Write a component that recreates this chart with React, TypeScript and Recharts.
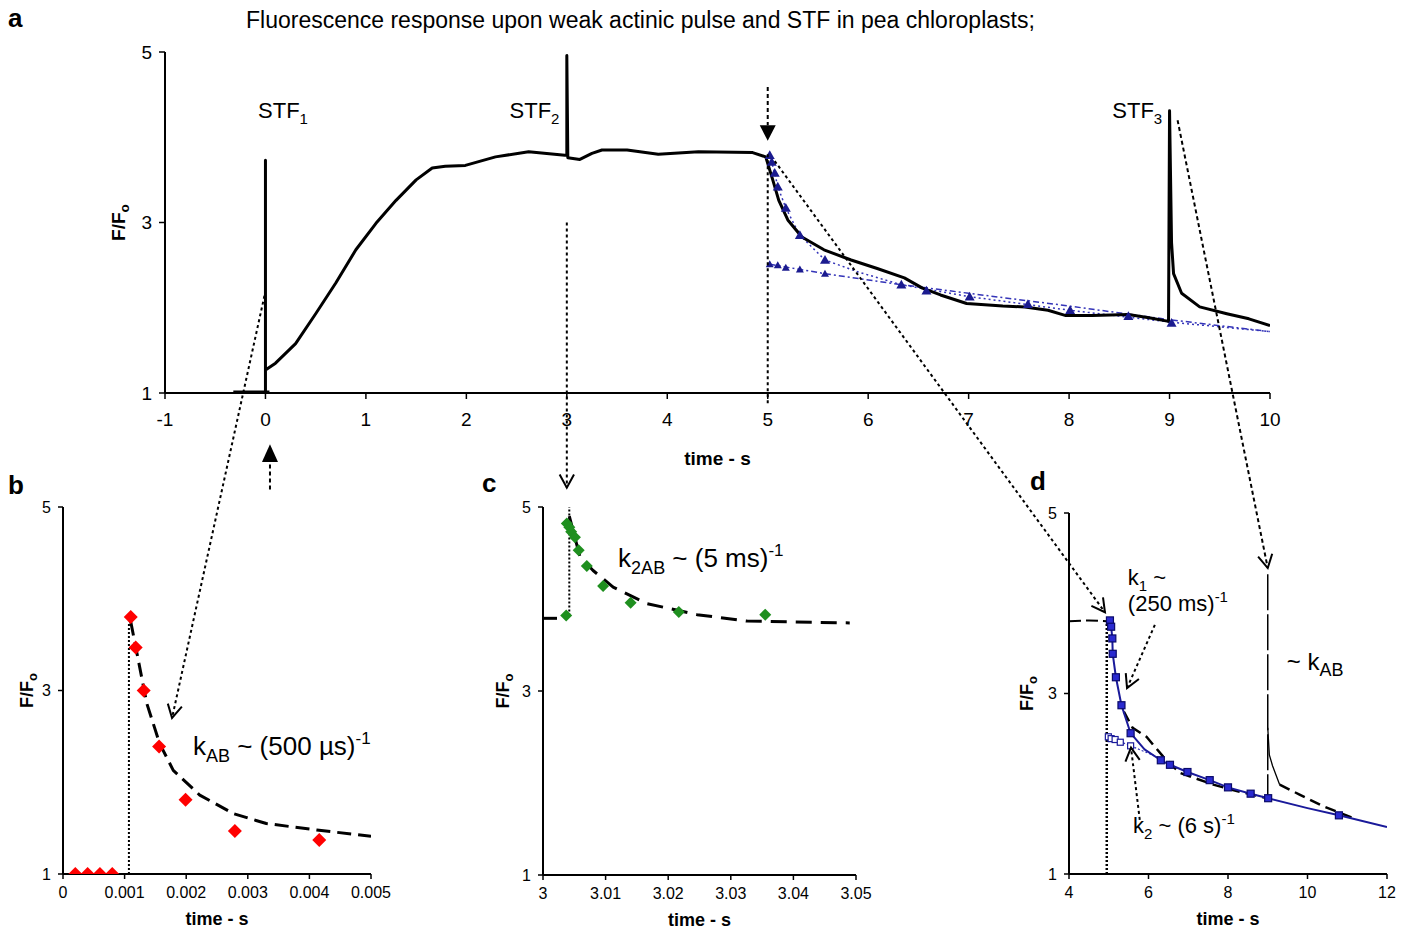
import React from "react";
import { ComposedChart, Line, Scatter, XAxis, YAxis, ReferenceLine } from "recharts";

const FONT = "'Liberation Sans', Arial, Helvetica, sans-serif";

// ---- panel a : whole trace ----
const ticksXA = [-1, 0, 1, 2, 3, 4, 5, 6, 7, 8, 9, 10];
const ticksY = [1, 3, 5];
const traceA = [
  { x: 0, y: 1 }, { x: 0, y: 3.73 }, { x: 0, y: 1.27 }, { x: 0.1, y: 1.35 }, { x: 0.3, y: 1.58 },
  { x: 0.5, y: 1.93 }, { x: 0.7, y: 2.29 }, { x: 0.9, y: 2.68 }, { x: 1.1, y: 2.99 }, { x: 1.3, y: 3.26 },
  { x: 1.5, y: 3.5 }, { x: 1.66, y: 3.64 }, { x: 1.79, y: 3.66 }, { x: 1.99, y: 3.67 }, { x: 2.29, y: 3.77 },
  { x: 2.62, y: 3.83 }, { x: 2.98, y: 3.79 }, { x: 3.0, y: 3.79 }, { x: 3.0, y: 4.96 }, { x: 3.01, y: 3.76 },
  { x: 3.13, y: 3.74 }, { x: 3.25, y: 3.81 }, { x: 3.35, y: 3.85 }, { x: 3.6, y: 3.85 }, { x: 3.91, y: 3.8 },
  { x: 4.31, y: 3.83 }, { x: 4.85, y: 3.82 }, { x: 4.98, y: 3.77 }, { x: 5.05, y: 3.5 }, { x: 5.11, y: 3.26 },
  { x: 5.2, y: 3.03 }, { x: 5.34, y: 2.83 }, { x: 5.56, y: 2.68 }, { x: 5.83, y: 2.56 }, { x: 6.09, y: 2.46 },
  { x: 6.36, y: 2.35 }, { x: 6.54, y: 2.23 }, { x: 6.72, y: 2.15 }, { x: 6.98, y: 2.05 }, { x: 7.34, y: 2.02 },
  { x: 7.56, y: 2.01 }, { x: 7.79, y: 1.97 }, { x: 7.96, y: 1.91 }, { x: 8.23, y: 1.91 }, { x: 8.59, y: 1.92 },
  { x: 8.81, y: 1.88 }, { x: 8.99, y: 1.84 }, { x: 9.0, y: 4.31 }, { x: 9.02, y: 2.76 }, { x: 9.04, y: 2.4 },
  { x: 9.12, y: 2.17 }, { x: 9.3, y: 2.01 }, { x: 9.57, y: 1.93 }, { x: 9.79, y: 1.87 }, { x: 10, y: 1.79 },
];
const baseA = [{ x: -0.32, y: 1 }, { x: 0.04, y: 1 }];
const triUpperA = [
  { x: 5.02, y: 3.79 }, { x: 5.04, y: 3.71 }, { x: 5.07, y: 3.58 }, { x: 5.1, y: 3.42 }, { x: 5.18, y: 3.17 },
  { x: 5.32, y: 2.85 }, { x: 5.57, y: 2.56 }, { x: 6.33, y: 2.27 }, { x: 6.58, y: 2.2 }, { x: 7.01, y: 2.13 },
  { x: 7.59, y: 2.04 }, { x: 8.01, y: 1.97 }, { x: 8.59, y: 1.9 }, { x: 9.02, y: 1.82 },
];
const triLowerA = [
  { x: 5.02, y: 2.51 }, { x: 5.1, y: 2.5 }, { x: 5.18, y: 2.47 }, { x: 5.32, y: 2.45 }, { x: 5.57, y: 2.4 },
];
const fitUpperA = [
  { x: 5.02, y: 3.79 }, { x: 5.07, y: 3.58 }, { x: 5.1, y: 3.42 }, { x: 5.18, y: 3.17 }, { x: 5.32, y: 2.85 },
  { x: 5.57, y: 2.56 }, { x: 5.9, y: 2.42 }, { x: 6.33, y: 2.27 }, { x: 7.01, y: 2.13 }, { x: 8.01, y: 1.97 },
  { x: 9.02, y: 1.83 }, { x: 10, y: 1.72 },
];
const fitLowerA = [
  { x: 5.02, y: 2.51 }, { x: 5.57, y: 2.4 }, { x: 6.33, y: 2.27 }, { x: 7.0, y: 2.17 }, { x: 8.0, y: 2.02 },
  { x: 9.0, y: 1.86 }, { x: 10, y: 1.72 },
];

// ---- panel b : STF1 ----
const ticksXB = [0, 0.001, 0.002, 0.003, 0.004, 0.005];
const pointsB = [
  { x: 0.0002, y: 1 }, { x: 0.0004, y: 1 }, { x: 0.0006, y: 1 }, { x: 0.0008, y: 1 },
  { x: 0.0011, y: 3.8 }, { x: 0.00118, y: 3.47 }, { x: 0.00131, y: 3.0 }, { x: 0.00156, y: 2.39 },
  { x: 0.00199, y: 1.81 }, { x: 0.00279, y: 1.47 }, { x: 0.00416, y: 1.37 },
];
const fitB = [
  { x: 0.0011, y: 3.75 }, { x: 0.00136, y: 2.86 }, { x: 0.00157, y: 2.42 }, { x: 0.00179, y: 2.13 },
  { x: 0.00222, y: 1.86 }, { x: 0.00276, y: 1.66 }, { x: 0.0033, y: 1.55 }, { x: 0.00412, y: 1.48 },
  { x: 0.005, y: 1.41 },
];

// ---- panel c : STF2 ----
const ticksXC = [3, 3.01, 3.02, 3.03, 3.04, 3.05];
const pointsC = [
  { x: 3.0037, y: 3.82 }, { x: 3.0038, y: 4.82 }, { x: 3.0042, y: 4.78 }, { x: 3.0045, y: 4.73 },
  { x: 3.0051, y: 4.67 }, { x: 3.0057, y: 4.53 }, { x: 3.007, y: 4.36 }, { x: 3.0096, y: 4.14 },
  { x: 3.014, y: 3.96 }, { x: 3.0217, y: 3.86 }, { x: 3.0355, y: 3.83 },
];
const fitC = [
  { x: 3.0042, y: 4.9 }, { x: 3.0059, y: 4.46 }, { x: 3.008, y: 4.31 }, { x: 3.0112, y: 4.13 },
  { x: 3.0166, y: 3.95 }, { x: 3.0246, y: 3.83 }, { x: 3.0326, y: 3.76 }, { x: 3.049, y: 3.74 },
];
const preC = [{ x: 3, y: 3.79 }, { x: 3.0025, y: 3.79 }];

// ---- panel d : dark decay ----
const ticksXD = [4, 6, 8, 10, 12];
const squaresD = [
  { x: 5.03, y: 3.81 }, { x: 5.06, y: 3.74 }, { x: 5.09, y: 3.61 }, { x: 5.1, y: 3.44 }, { x: 5.18, y: 3.18 },
  { x: 5.32, y: 2.87 }, { x: 5.55, y: 2.56 }, { x: 6.31, y: 2.26 }, { x: 6.54, y: 2.21 }, { x: 6.98, y: 2.13 },
  { x: 7.54, y: 2.04 }, { x: 8.0, y: 1.96 }, { x: 8.57, y: 1.89 }, { x: 9.01, y: 1.84 }, { x: 10.79, y: 1.65 },
];
const hollowD = [
  { x: 4.99, y: 2.52 }, { x: 5.06, y: 2.5 }, { x: 5.16, y: 2.49 }, { x: 5.29, y: 2.46 }, { x: 5.55, y: 2.42 },
];
const fitD = [
  { x: 5.03, y: 3.81 }, { x: 5.06, y: 3.74 }, { x: 5.09, y: 3.61 }, { x: 5.1, y: 3.44 }, { x: 5.18, y: 3.18 },
  { x: 5.32, y: 2.87 }, { x: 5.55, y: 2.56 }, { x: 5.9, y: 2.38 }, { x: 6.31, y: 2.26 }, { x: 6.54, y: 2.21 },
  { x: 6.98, y: 2.13 }, { x: 7.54, y: 2.04 }, { x: 8.0, y: 1.96 }, { x: 8.57, y: 1.89 }, { x: 9.01, y: 1.84 },
  { x: 10.0, y: 1.73 }, { x: 10.79, y: 1.65 }, { x: 12, y: 1.52 },
];
const slowD = [{ x: 4.99, y: 2.52 }, { x: 5.55, y: 2.42 }, { x: 6.31, y: 2.28 }];
const preD = [{ x: 4, y: 3.8 }, { x: 4.5, y: 3.81 }, { x: 4.95, y: 3.8 }];
const traceD1 = [
  { x: 5.38, y: 2.8 }, { x: 5.6, y: 2.62 }, { x: 5.95, y: 2.52 }, { x: 6.37, y: 2.3 }, { x: 6.79, y: 2.12 },
  { x: 7.63, y: 1.99 }, { x: 8.3, y: 1.91 }, { x: 8.8, y: 1.86 }, { x: 9.0, y: 1.84 },
];
const traceD2 = [{ x: 9.3, y: 1.99 }, { x: 9.8, y: 1.88 }, { x: 10.4, y: 1.75 }, { x: 11.14, y: 1.62 }];
const spikeD = [{ x: 9, y: 4.32 }, { x: 9, y: 1.85 }];
const tailD = [{ x: 9, y: 2.62 }, { x: 9.04, y: 2.32 }, { x: 9.12, y: 2.2 }, { x: 9.3, y: 1.99 }];

// plot boxes in page pixels
type Box = { l: number; r: number; t: number; b: number; x0: number; x1: number; y0: number; y1: number };
const boxA: Box = { l: 165, r: 1270, t: 52, b: 393, x0: -1, x1: 10, y0: 1, y1: 5 };
const boxB: Box = { l: 63, r: 371, t: 507, b: 874, x0: 0, x1: 0.005, y0: 1, y1: 5 };
const boxC: Box = { l: 543, r: 856, t: 507, b: 875, x0: 3, x1: 3.05, y0: 1, y1: 5 };
const boxD: Box = { l: 1069, r: 1387, t: 513, b: 874, x0: 4, x1: 12, y0: 1, y1: 5 };
const px = (bx: Box, x: number) => bx.l + ((x - bx.x0) / (bx.x1 - bx.x0)) * (bx.r - bx.l);
const py = (bx: Box, y: number) => bx.b - ((y - bx.y0) / (bx.y1 - bx.y0)) * (bx.b - bx.t);

const TOP = 16;
const RIGHT = 22;

const diamond = (r: number, fill: string) => (p: any) => (
  <polygon points={`${p.cx},${p.cy - r} ${p.cx + r},${p.cy} ${p.cx},${p.cy + r} ${p.cx - r},${p.cy}`} fill={fill} />
);
const triangle = (r: number, fill: string) => (p: any) => (
  <polygon points={`${p.cx},${p.cy - r} ${p.cx + r},${p.cy + r * 0.75} ${p.cx - r},${p.cy + r * 0.75}`} fill={fill} />
);
const square = (r: number, fill: string, stroke: string) => (p: any) => (
  <rect x={p.cx - r} y={p.cy - r} width={2 * r} height={2 * r} fill={fill} stroke={stroke} strokeWidth={1.2} />
);

// y title, in the chart's own svg coordinates (gap = distance left of the y axis)
const yTitle = (bx: Box, yW: number, gap: number, size: number) => () => {
  const x = yW - gap;
  const y = TOP + (bx.b - bx.t) / 2;
  return (
    <text x={x} y={y} transform={`rotate(-90 ${x} ${y})`} textAnchor="middle" fontFamily={FONT} fontSize={size} fontWeight="bold" fill="#000">
      F/F<tspan dy={4} fontSize={size * 0.72}>o</tspan>
    </text>
  );
};

function Panel({ bx, yW, xH, children }: { bx: Box; yW: number; xH: number; children: React.ReactNode }) {
  const width = bx.r - bx.l + yW + RIGHT;
  const height = TOP + (bx.b - bx.t) + xH;
  return (
    <div style={{ position: "absolute", left: bx.l - yW, top: bx.t - TOP }}>
      <ComposedChart width={width} height={height} margin={{ top: TOP, right: RIGHT, bottom: 0, left: 0 }}>
        {children}
      </ComposedChart>
    </div>
  );
}

const axisProps = (fs: number) => ({
  stroke: "#000",
  axisLine: { stroke: "#000", strokeWidth: 2 },
  tickLine: { stroke: "#000", strokeWidth: 1.5 },
  tick: { fill: "#000", fontSize: fs, fontFamily: FONT },
  interval: 0 as const,
  allowDataOverflow: true,
});

const line = (data: any[], stroke: string, width: number, dash?: string) => (
  <Line
    data={data}
    dataKey="y"
    type="linear"
    stroke={stroke}
    strokeWidth={width}
    strokeDasharray={dash}
    strokeLinejoin="round"
    dot={false}
    activeDot={false}
    isAnimationActive={false}
  />
);

// arrow heads
const openHead = (x1: number, y1: number, x2: number, y2: number, len = 15, ang = 0.5) => {
  const a = Math.atan2(y2 - y1, x2 - x1);
  const p1 = `${x2 - len * Math.cos(a - ang)},${y2 - len * Math.sin(a - ang)}`;
  const p2 = `${x2 - len * Math.cos(a + ang)},${y2 - len * Math.sin(a + ang)}`;
  return <polyline points={`${p1} ${x2},${y2} ${p2}`} fill="none" stroke="#000" strokeWidth={2} />;
};
const filledHead = (x: number, yBase: number, yTip: number, half = 8) => (
  <polygon points={`${x - half},${yBase} ${x + half},${yBase} ${x},${yTip}`} fill="#000" />
);

function Arrow({ x1, y1, x2, y2, dash = "4 3" }: { x1: number; y1: number; x2: number; y2: number; dash?: string }) {
  return (
    <g>
      <line x1={x1} y1={y1} x2={x2} y2={y2} stroke="#000" strokeWidth={2} strokeDasharray={dash} />
      {openHead(x1, y1, x2, y2)}
    </g>
  );
}

function Overlay() {
  const t = { fontFamily: FONT, fill: "#000" };
  const x5 = px(boxA, 5);
  const x0 = px(boxA, 0.045);
  return (
    <svg width={1410} height={929} style={{ position: "absolute", left: 0, top: 0, pointerEvents: "none" }}>
      {/* panel letters and title */}
      <text x={8} y={27} {...t} fontSize={26} fontWeight="bold">a</text>
      <text x={8} y={494} {...t} fontSize={26} fontWeight="bold">b</text>
      <text x={482} y={492} {...t} fontSize={26} fontWeight="bold">c</text>
      <text x={1030} y={490} {...t} fontSize={26} fontWeight="bold">d</text>
      <text x={246} y={28} {...t} fontSize={23}>
        Fluorescence response upon weak actinic pulse and STF in pea chloroplasts;
      </text>

      {/* STF labels */}
      <text x={px(boxA, -0.074)} y={py(boxA, 4.23)} {...t} fontSize={22}>
        STF<tspan dy={6} fontSize={15}>1</tspan>
      </text>
      <text x={px(boxA, 2.43)} y={py(boxA, 4.23)} {...t} fontSize={22}>
        STF<tspan dy={6} fontSize={15}>2</tspan>
      </text>
      <text x={px(boxA, 8.43)} y={py(boxA, 4.23)} {...t} fontSize={22}>
        STF<tspan dy={6} fontSize={15}>3</tspan>
      </text>

      {/* arrows in and below panel a */}
      <line x1={x5} y1={py(boxA, 4.59)} x2={x5} y2={py(boxA, 4.14)} stroke="#000" strokeWidth={2} strokeDasharray="4 3" />
      {filledHead(x5, py(boxA, 4.14), py(boxA, 3.96))}
      <line x1={x5} y1={py(boxA, 3.8)} x2={x5} y2={py(boxA, 0.85)} stroke="#000" strokeWidth={2} strokeDasharray="3 3" />
      <line x1={x0} y1={py(boxA, 0.16)} x2={x0} y2={py(boxA, -0.16)} stroke="#000" strokeWidth={2} strokeDasharray="4 3" />
      {filledHead(x0, py(boxA, 0.19), py(boxA, 0.4))}

      {/* connections between panels */}
      <Arrow x1={px(boxA, -0.01)} y1={py(boxA, 2.14)} x2={px(boxB, 0.00177)} y2={py(boxB, 2.7)} dash="3 3" />
      <Arrow x1={px(boxA, 3)} y1={py(boxA, 3.0)} x2={px(boxA, 3)} y2={py(boxC, 5.21)} dash="3 3" />
      <Arrow x1={px(boxA, 5.07)} y1={py(boxA, 3.72)} x2={px(boxD, 4.905)} y2={py(boxD, 3.9)} dash="3 3" />
      <Arrow x1={px(boxA, 9.08)} y1={py(boxA, 4.2)} x2={px(boxD, 9.0)} y2={py(boxD, 4.39)} dash="4 3" />
      <Arrow x1={px(boxD, 6.16)} y1={py(boxD, 3.76)} x2={px(boxD, 5.46)} y2={py(boxD, 3.06)} dash="3 3" />
      <Arrow x1={px(boxD, 5.78)} y1={py(boxD, 1.6)} x2={px(boxD, 5.56)} y2={py(boxD, 2.4)} dash="3 3" />

      {/* rate constants */}
      <text x={px(boxB, 0.00211)} y={py(boxB, 2.3)} {...t} fontSize={26}>
        k<tspan dy={7} fontSize={18}>AB</tspan>
        <tspan dy={-7}> ~ (500 µs)</tspan>
        <tspan dy={-11} fontSize={17}>-1</tspan>
      </text>
      <text x={px(boxC, 3.012)} y={py(boxC, 4.35)} {...t} fontSize={26}>
        k<tspan dy={7} fontSize={18}>2AB</tspan>
        <tspan dy={-7}> ~ (5 ms)</tspan>
        <tspan dy={-11} fontSize={17}>-1</tspan>
      </text>
      <text x={px(boxD, 5.48)} y={py(boxD, 4.2)} {...t} fontSize={22}>
        k<tspan dy={6} fontSize={15}>1</tspan>
        <tspan dy={-6}> ~</tspan>
      </text>
      <text x={px(boxD, 5.48)} y={py(boxD, 3.91)} {...t} fontSize={22}>
        (250 ms)<tspan dy={-9} fontSize={15}>-1</tspan>
      </text>
      <text x={px(boxD, 9.48)} y={py(boxD, 3.26)} {...t} fontSize={24}>
        ~ k<tspan dy={6} fontSize={18}>AB</tspan>
      </text>
      <text x={px(boxD, 5.61)} y={py(boxD, 1.45)} {...t} fontSize={22}>
        k<tspan dy={6} fontSize={15}>2</tspan>
        <tspan dy={-6}> ~ (6 s)</tspan>
        <tspan dy={-9} fontSize={15}>-1</tspan>
      </text>
    </svg>
  );
}

export default function App() {
  const smallLabel = { position: "insideBottom" as const, offset: 4, fill: "#000", fontSize: 18, fontWeight: "bold", fontFamily: FONT, value: "time - s" };
  return (
    <div style={{ position: "absolute", left: 0, top: 0, width: 1410, height: 929, overflow: "hidden", background: "#fff" }}>
      {/* a */}
      <Panel bx={boxA} yW={65} xH={75}>
        <XAxis
          dataKey="x"
          type="number"
          domain={[-1, 10]}
          ticks={ticksXA}
          height={75}
          tickSize={6}
          tickMargin={14}
          {...axisProps(19)}
          label={{ value: "time - s", position: "insideBottom", offset: 3, fill: "#000", fontSize: 19, fontWeight: "bold", fontFamily: FONT }}
        />
        <YAxis
          type="number"
          domain={[1, 5]}
          ticks={ticksY}
          width={65}
          tickSize={6}
          tickMargin={7}
          {...axisProps(19)}
          label={{ content: yTitle(boxA, 65, 40, 19) }}
        />
        {line(baseA, "#000", 5)}
        {line(fitLowerA, "#3434b8", 1.5, "6 3 2 3")}
        {line(fitUpperA, "#3434b8", 1.5, "2 3")}
        {line(traceA, "#000", 3)}
        <Scatter data={triUpperA} dataKey="y" shape={triangle(5, "#1b1b8f")} isAnimationActive={false} />
        <Scatter data={triLowerA} dataKey="y" shape={triangle(4, "#1b1b8f")} isAnimationActive={false} />
      </Panel>

      {/* b */}
      <Panel bx={boxB} yW={60} xH={55}>
        <XAxis
          dataKey="x"
          type="number"
          domain={[0, 0.005]}
          ticks={ticksXB}
          height={55}
          tickSize={5}
          tickMargin={8}
          tickFormatter={(v: number) => (v === 0 ? "0" : v.toFixed(3))}
          {...axisProps(16)}
          label={smallLabel}
        />
        <YAxis type="number" domain={[1, 5]} ticks={ticksY} width={60} tickSize={5} tickMargin={7} {...axisProps(16)}
          label={{ content: yTitle(boxB, 60, 30, 18) }} />
        <ReferenceLine segment={[{ x: 0.00107, y: 1 }, { x: 0.00107, y: 3.75 }]} stroke="#000" strokeWidth={2} strokeDasharray="2 2" />
        {line(fitB, "#000", 3, "14 7")}
        <Scatter data={pointsB} dataKey="y" shape={diamond(7, "#ff0000")} isAnimationActive={false} />
      </Panel>

      {/* c */}
      <Panel bx={boxC} yW={60} xH={55}>
        <XAxis
          dataKey="x"
          type="number"
          domain={[3, 3.05]}
          ticks={ticksXC}
          height={55}
          tickSize={5}
          tickMargin={8}
          tickFormatter={(v: number) => (v === 3 ? "3" : v.toFixed(2))}
          {...axisProps(16)}
          label={smallLabel}
        />
        <YAxis type="number" domain={[1, 5]} ticks={ticksY} width={60} tickSize={5} tickMargin={7} {...axisProps(16)}
          label={{ content: yTitle(boxC, 60, 34, 18) }} />
        <ReferenceLine segment={[{ x: 3.0042, y: 3.82 }, { x: 3.0042, y: 5 }]} stroke="#000" strokeWidth={2} strokeDasharray="2 2" />
        {line(preC, "#000", 3, "14 8")}
        {line(fitC, "#000", 3, "16 9")}
        <Scatter data={pointsC} dataKey="y" shape={diamond(6, "#1f8f1f")} isAnimationActive={false} />
      </Panel>

      {/* d */}
      <Panel bx={boxD} yW={60} xH={55}>
        <XAxis
          dataKey="x"
          type="number"
          domain={[4, 12]}
          ticks={ticksXD}
          height={55}
          tickSize={5}
          tickMargin={8}
          {...axisProps(16)}
          label={smallLabel}
        />
        <YAxis type="number" domain={[1, 5]} ticks={ticksY} width={60} tickSize={5} tickMargin={7} {...axisProps(16)}
          label={{ content: yTitle(boxD, 60, 36, 18) }} />
        <ReferenceLine segment={[{ x: 4.95, y: 1 }, { x: 4.95, y: 3.8 }]} stroke="#000" strokeWidth={2.5} strokeDasharray="2 2" />
        {line(preD, "#000", 2, "12 5")}
        {line(spikeD, "#000", 1.5, "36 4")}
        {line(tailD, "#000", 1.3)}
        {line(traceD1, "#000", 2.5, "11 6")}
        {line(traceD2, "#000", 2.5, "11 6")}
        {line(slowD, "#3434b8", 1.2, "2 2")}
        {line(fitD, "#1a1a9a", 2)}
        <Scatter data={squaresD} dataKey="y" shape={square(3.5, "#2a2ad0", "#0a0a6a")} isAnimationActive={false} />
        <Scatter data={hollowD} dataKey="y" shape={square(3, "#fff", "#1a1a9a")} isAnimationActive={false} />
      </Panel>

      <Overlay />
    </div>
  );
}
